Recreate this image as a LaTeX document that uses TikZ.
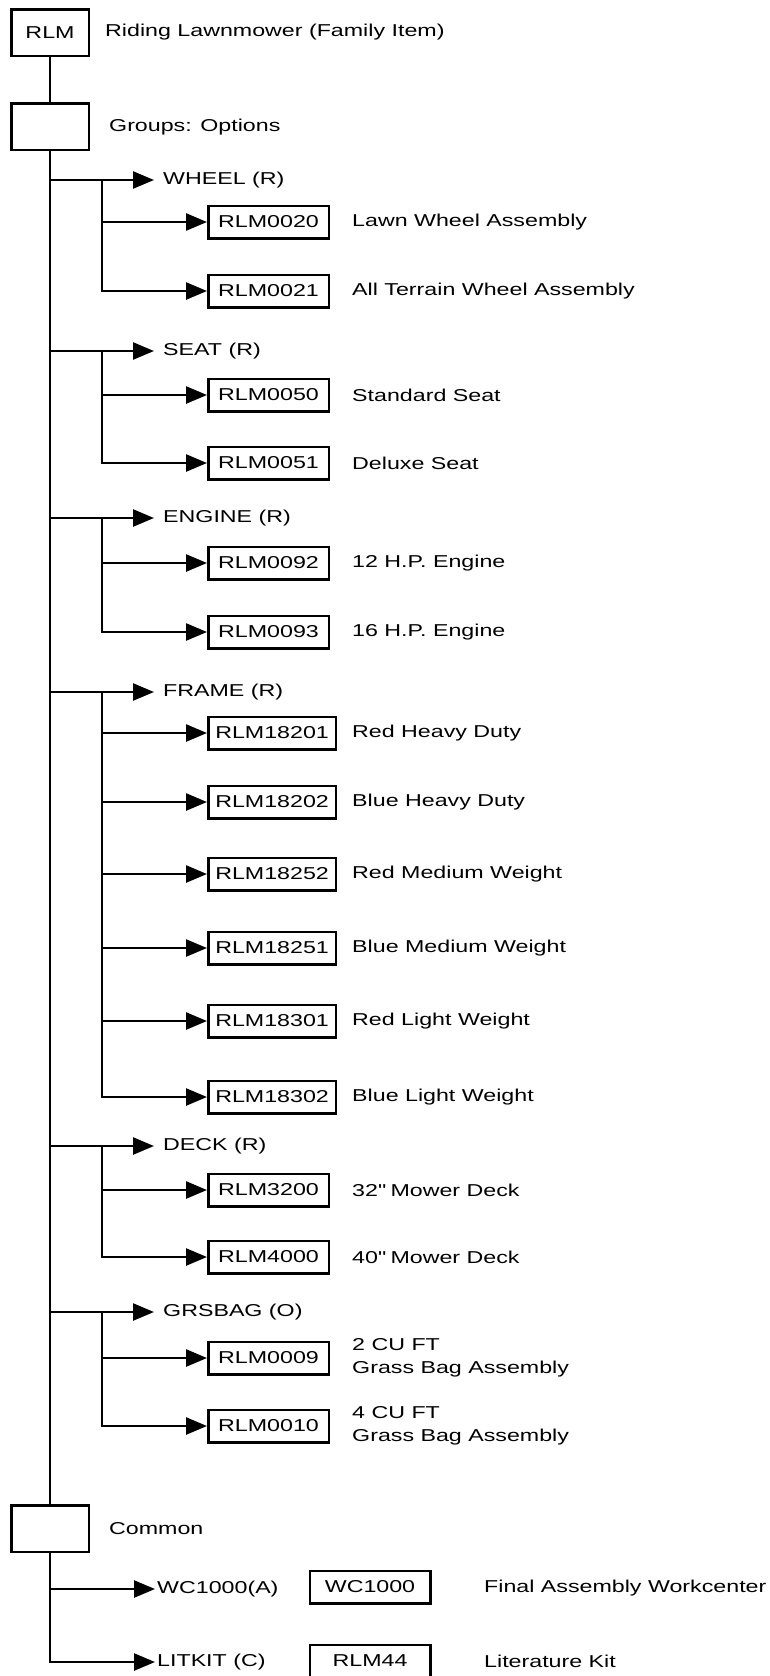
\documentclass[tikz,border=0pt]{standalone}
\usepackage{fontspec}
\setmainfont{Liberation Sans}[FakeStretch=1.35]
\usetikzlibrary{arrows.meta}

\tikzset{
  bigbox/.style={draw, line width=2.5pt, minimum width=77.5pt, minimum height=46.5pt, inner sep=0pt},
  itembox/.style={draw, line width=2.5pt, anchor=west, minimum width=120.5pt, minimum height=32.5pt, inner xsep=7pt, inner ysep=0pt},
  lbl/.style={anchor=west, inner sep=0pt, align=left},
  grp/.style={anchor=west, inner xsep=9pt, inner ysep=0pt},
  link/.style={line width=2.5pt},
}

\begin{document}
\begin{tikzpicture}[x=1pt, y=-1pt, >={Triangle[length=21pt,width=17pt]},
  every node/.style={font=\fontsize{17.2pt}{23.5pt}\selectfont}]
\useasboundingbox (0,0) rectangle (770,1676);

% family item and the two group headers
\node[bigbox] (rlm) at (50,32.5) {RLM};
\node[lbl] at (105,32) {Riding Lawnmower (Family Item)};
\node[bigbox] (opt) at (50,126.5) {};
\node[lbl] at (109,127) {Groups: Options};
\node[bigbox] (com) at (50,1528.5) {};
\node[lbl] at (109,1529) {Common};
\draw[link] (rlm) -- (opt);
\draw[link] (opt) -- (com);

% option groups
\foreach \g/\y/\last/\txt in {wheel/180/291/WHEEL (R), seat/351/463/SEAT (R),
    engine/518/632/ENGINE (R), frame/692/1097/FRAME (R), deck/1146/1257/DECK (R),
    grsbag/1312/1426/GRSBAG (O)} {
  \coordinate (t-\g) at (50,\y);
  \coordinate (s-\g) at (102,\y);
  \coordinate (e-\g) at (102,\last);
  \node[grp] (\g) at (154,\y) {\txt};
  \draw[link,->] (t-\g) -- (\g);
  \draw[link,line cap=rect] (s-\g) -- (e-\g);
}

% items of each group
\foreach \id/\y/\txt in {RLM0020/222/Lawn Wheel Assembly, RLM0021/291/All Terrain Wheel Assembly,
    RLM0050/395/Standard Seat, RLM0051/463/Deluxe Seat,
    RLM0092/563/12 H.P. Engine, RLM0093/632/16 H.P. Engine,
    RLM18201/733/Red Heavy Duty, RLM18202/802/Blue Heavy Duty,
    RLM18252/874/Red Medium Weight, RLM18251/948/Blue Medium Weight,
    RLM18301/1021/Red Light Weight, RLM18302/1097/Blue Light Weight,
    RLM3200/1190/32\textquotedbl{} Mower Deck, RLM4000/1257/40\textquotedbl{} Mower Deck,
    RLM0009/1358/2 CU FT\\Grass Bag Assembly, RLM0010/1426/4 CU FT\\Grass Bag Assembly} {
  \node[itembox] (\id) at (207,\y) {\id};
  \node[lbl] at (352,\y) {\txt};
  \coordinate (j-\id) at (102,\y);
  \draw[link,->] (j-\id) -- (\id);
}

% common part
\coordinate (t-wc) at (50,1589);
\node[grp, inner xsep=2pt] (wc) at (155,1589) {WC1000(A)};
\node[grp, inner xsep=2pt] (lit) at (155,1662) {LITKIT (C)};
\draw[link,->] (t-wc) -- (wc);
\draw[link,->] (com) |- (lit);
\node[itembox, anchor=center] (wcbox) at (370,1587) {WC1000};
\node[itembox, anchor=center] (kitbox) at (370,1661) {RLM44};
\node[lbl] at (484,1588) {Final Assembly Workcenter};
\node[lbl] at (484,1661) {Literature Kit};
\end{tikzpicture}
\end{document}
